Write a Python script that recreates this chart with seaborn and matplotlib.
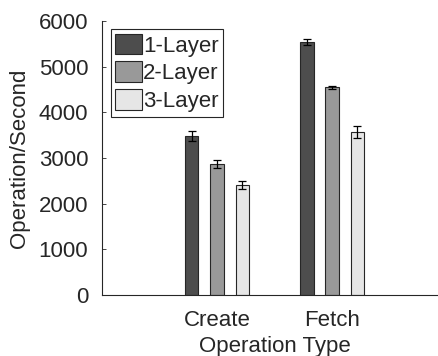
import numpy as np
import pandas as pd
import matplotlib
matplotlib.use("Agg")
import matplotlib.pyplot as plt
import seaborn as sns
from matplotlib.patches import Patch

operations = ["Create", "Fetch"]
layers = ["1-Layer", "2-Layer", "3-Layer"]
ops_per_sec = {
    "1-Layer": [3490, 5535],
    "2-Layer": [2862, 4555],
    "3-Layer": [2410, 3578],
}
ops_err = {
    "1-Layer": [110, 65],
    "2-Layer": [90, 33],
    "3-Layer": [95, 128],
}
colors = ["#4d4d4d", "#999999", "#e6e6e6"]

rows = []
for lay in layers:
    for i, op in enumerate(operations):
        rows.append({"Operation": op, "Layer": lay,
                     "Value": ops_per_sec[lay][i], "Err": ops_err[lay][i]})
df = pd.DataFrame(rows)

sns.set_style("ticks")
plt.rcParams["font.family"] = ["Liberation Sans", "DejaVu Sans"]
fs = 16

fig = plt.figure(figsize=(4.38, 3.56), dpi=100)
ax = fig.add_axes([0.233, 0.171, 0.788, 0.770])

sns.barplot(data=df, x="Operation", y="Value", hue="Layer",
            hue_order=layers, order=operations, palette=colors,
            width=0.66, gap=0.47, edgecolor="#262626", linewidth=0.8,
            errorbar=None, legend=False, ax=ax)

for lay, cont in zip(layers, ax.containers):
    for i, bar in enumerate(cont):
        cx = bar.get_x() + bar.get_width() / 2
        ax.errorbar(cx, bar.get_height(), yerr=ops_err[lay][i],
                    fmt="none", ecolor="black", elinewidth=0.9,
                    capsize=3, capthick=0.9)

ax.set_xlim(-1, 2)
ax.set_ylim(0, 6000)
ax.set_yticks(np.arange(0, 6001, 1000))
ax.set_xlabel("Operation Type", fontsize=fs, color="#262626", labelpad=3)
ax.set_ylabel("Operation/Second", fontsize=fs, color="#262626", labelpad=6)
ax.tick_params(axis="both", direction="in", labelsize=fs, colors="#262626",
               length=3, width=0.6)
ax.tick_params(axis="y", pad=10)
ax.tick_params(axis="x", pad=11)
sns.despine(ax=ax)
for s in ["left", "bottom"]:
    ax.spines[s].set_color("#262626")
    ax.spines[s].set_linewidth(0.8)

handles = [Patch(facecolor=c, edgecolor="#262626", linewidth=0.8) for c in colors]
leg = ax.legend(handles, layers, loc="upper left", bbox_to_anchor=(0.026, 0.97),
                fontsize=fs, handlelength=1.2, handleheight=1.05,
                handletextpad=0.05, labelspacing=0.22, borderpad=0.2,
                borderaxespad=0.0, fancybox=False, framealpha=1)
leg.get_frame().set_edgecolor("#262626")
leg.get_frame().set_linewidth(0.8)

fig.savefig("out.png", dpi=100)
